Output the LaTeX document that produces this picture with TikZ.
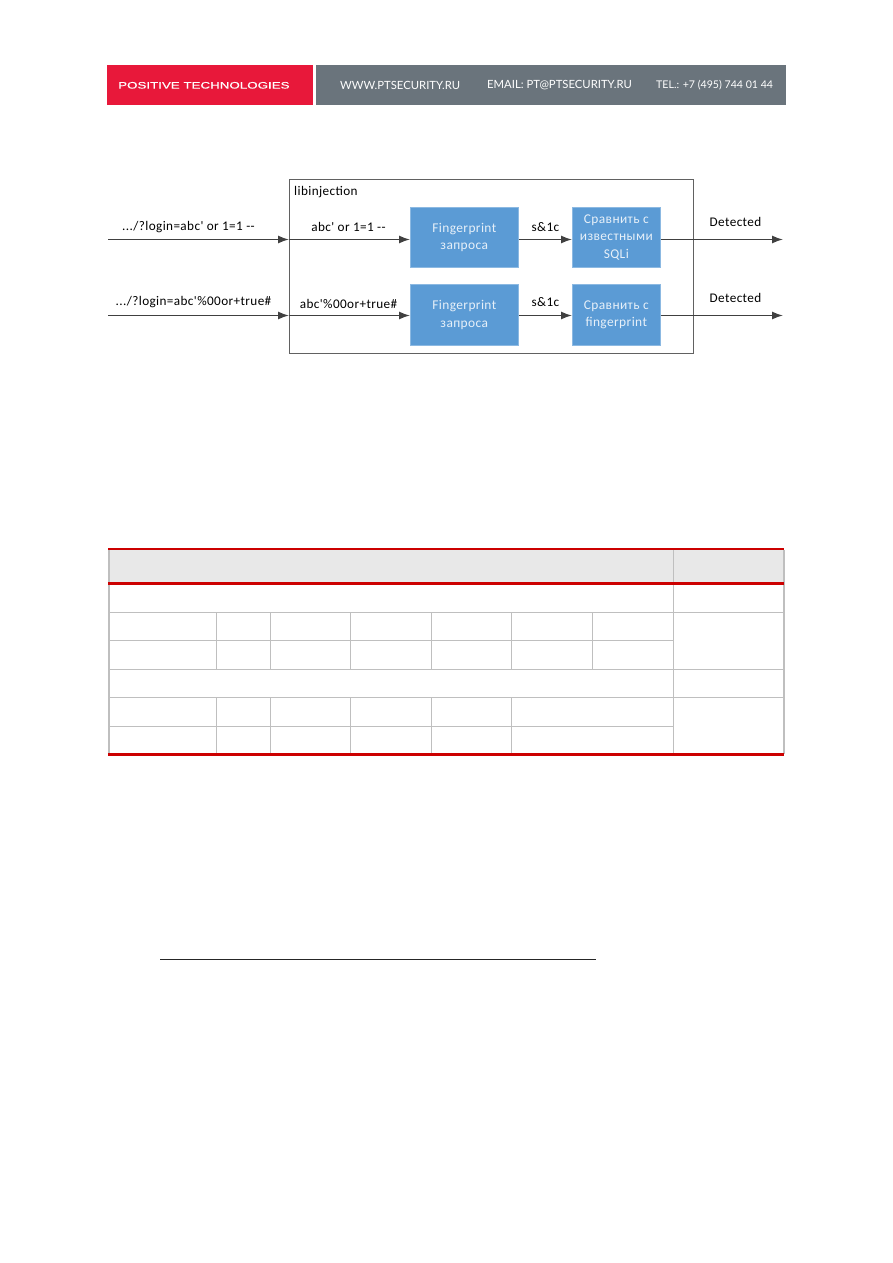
\documentclass[tikz,border=0pt]{standalone}
\usepackage{fontspec}
\setmainfont{Carlito}
\newfontfamily\logofont[FakeStretch=1.42,FakeBold=0.3]{Liberation Sans}
\newfontfamily\headfont{Lato}
\newfontfamily\diafont[LetterSpace=3]{Carlito}
\usetikzlibrary{arrows.meta,calc}
\definecolor{ptred}{HTML}{E8183A}
\definecolor{ptgray}{HTML}{6A747C}
\definecolor{blk}{HTML}{5B9BD5}
\definecolor{tred}{HTML}{CC0000}
\definecolor{tline}{HTML}{BFBFBF}
\definecolor{thead}{HTML}{E8E8E8}
\tikzset{
  x=1pt,y=-1pt,
  band/.style={draw=none,inner sep=0,anchor=north west},
  headtxt/.style={text=white,font=\headfont\fontsize{11.3}{13}\selectfont,inner sep=0,anchor=west},
  lab/.style={inner sep=0,font=\diafont\fontsize{13.2}{15}\selectfont,text=black},
  bluebox/.style={fill=blk,draw=blk!70!white,line width=.6pt,inner sep=0,anchor=north west,align=center,text=white!85!blk,font=\diafont\fontsize{13.4}{17.5}\selectfont},
  flow/.style={draw=black!75,line width=1.4pt,-{Latex[length=11pt,width=8pt]}},
  frameline/.style={draw=black!62,line width=1.3pt},
  grid/.style={draw=tline,line width=1pt},
  redrule/.style={fill=tred,draw=none},
}
\begin{document}
\begin{tikzpicture}
\useasboundingbox[fill=white] (0,0) rectangle (893,1263);
% header
\node[band,fill=ptred,minimum width=206pt,minimum height=40pt] (redband) at (107,65) {};
\node[band,fill=ptgray,minimum width=470pt,minimum height=40pt] (grayband) at (316,65) {};
\node[text=white,inner sep=0,anchor=west,font=\logofont\fontsize{9.4}{11}\selectfont] (logo) at (118,85.3) {POSITIVE TECHNOLOGIES};
\node[headtxt] (web) at (340,85) {WWW.PTSECURITY.RU};
\node[headtxt] (mail) at (487,85) {EMAIL: PT@PTSECURITY.RU};
\node[headtxt,font=\headfont\fontsize{10.6}{13}\selectfont] (tel) at (656,85) {TEL.: +7 (495) 744 01 44};
% diagram
\node[frameline,inner sep=0,anchor=north west,minimum width=404pt,minimum height=174pt] (lib) at (289,179) {};
\node[lab,anchor=west] (libt) at (294,192) {libinjection};
\node[bluebox,minimum width=108pt,minimum height=60pt] (fp1) at (410,207) {Fingerprint\\запроса};
\node[bluebox,minimum width=108pt,minimum height=61pt] (fp2) at (410,284) {Fingerprint\\запроса};
\node[bluebox,minimum width=88pt,minimum height=60pt] (cmp1) at (572,207) {Сравнить с\\известными\\SQLi};
\node[bluebox,minimum width=88pt,minimum height=61pt] (cmp2) at (572,284) {Сравнить с\\fingerprint};
\coordinate (a1) at (108,239.5);
\coordinate (a2) at (108,315.5);
\coordinate (e1) at (783,239.5);
\coordinate (e2) at (783,315.5);
\draw[flow] (a1) -- (a1 -| lib.west);
\draw[flow] (a1 -| lib.west) -- (a1 -| fp1.west);
\draw[flow] (a2) -- (a2 -| lib.west);
\draw[flow] (a2 -| lib.west) -- (a2 -| fp2.west);
\draw[flow] (a1 -| fp1.east) -- (a1 -| cmp1.west);
\draw[flow] (a2 -| fp2.east) -- (a2 -| cmp2.west);
\draw[flow] (e1 -| cmp1.east) -- (e1);
\draw[flow] (e2 -| cmp2.east) -- (e2);
\node[lab] (t1) at (188.5,227) {.../?login=abc' or 1=1 --};
\node[lab] (t2) at (193.5,302) {.../?login=abc'\%00or+true\#};
\node[lab] (t3) at (348.5,227) {abc' or 1=1 --};
\node[lab] (t4) at (348.5,303.5) {abc'\%00or+true\#};
\node[lab] (t5) at (545.5,227) {s\&1c};
\node[lab] (t6) at (545.5,302) {s\&1c};
\node[lab] (t7) at (735.5,221.5) {Detected};
\node[lab] (t8) at (735.5,298) {Detected};
% table
\fill[thead] (108,550) rectangle (784,582);
\foreach \yy in {612,640.5,669,697.5,726}
  \draw[grid] (108,\yy) -- (783,\yy);
\foreach \xx in {216.5,270,350.5,431.5}{
  \draw[grid] (\xx,612) -- (\xx,669);
  \draw[grid] (\xx,697.5) -- (\xx,754);
}
\draw[grid] (511,612) -- (511,669);
\draw[grid] (511,697.5) -- (511,754);
\draw[grid] (592.5,612) -- (592.5,669);
\draw[grid] (673.5,550) -- (673.5,754);
\fill[tline] (108,550) rectangle (110,754);
\fill[tline] (783,550) rectangle (785,754);
% white-out of rows 640.5 and 726 in last column
\fill[white] (674.2,613) rectangle (782.8,668.4);
\fill[white] (674.2,698.2) rectangle (782.8,752);
\fill[redrule] (108,548) rectangle (784,550);
\fill[redrule] (108,582) rectangle (784,585);
\fill[redrule] (108,753) rectangle (784,756);
% footnote rule
\draw[draw=black!85,line width=.8pt] (160,959) -- (596,959);
\end{tikzpicture}
\end{document}
